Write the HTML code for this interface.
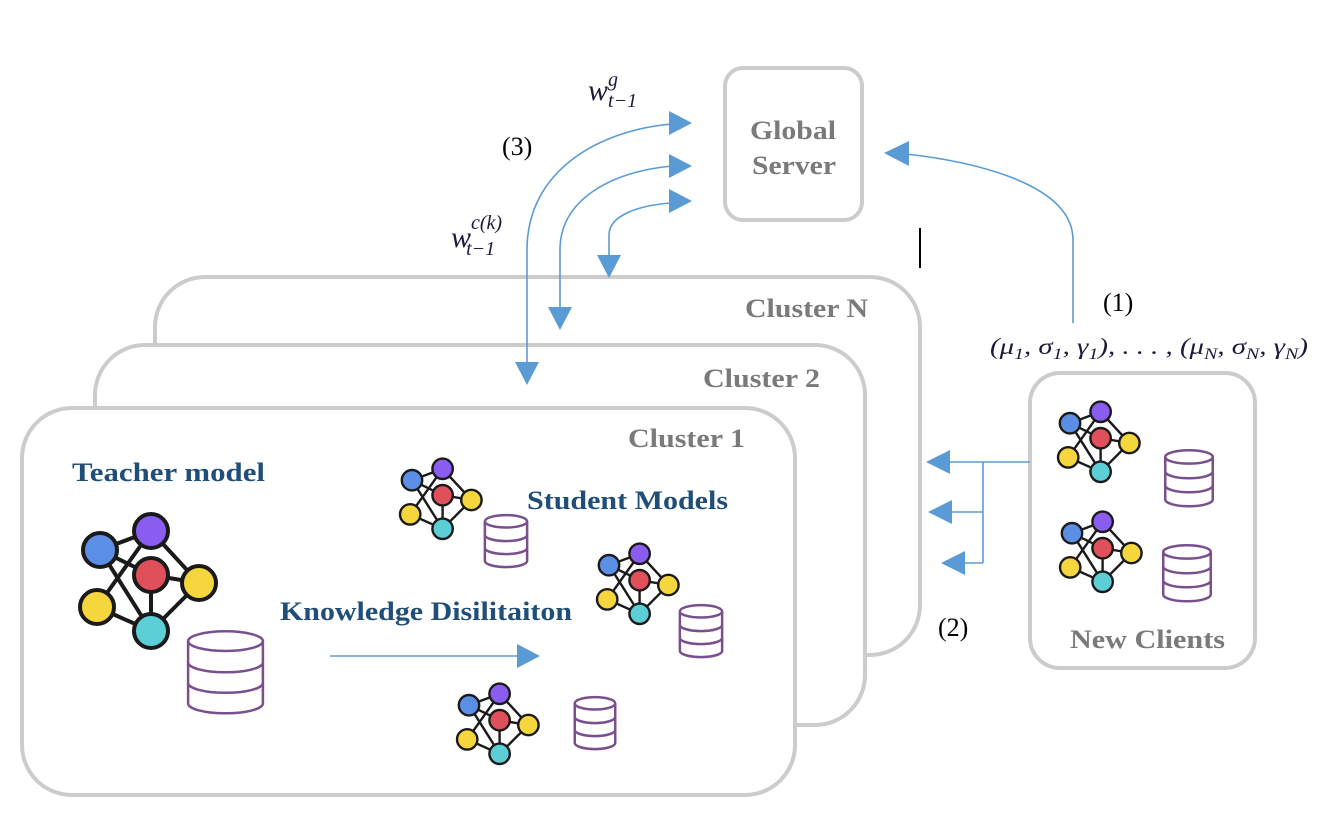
<!DOCTYPE html>
<html><head><meta charset="utf-8"><style>
html,body{margin:0;padding:0;background:#fff;}
svg{display:block;}
text{font-family:"Liberation Serif",serif;}
</style></head><body>
<svg width="1328" height="829" viewBox="0 0 1328 829" xmlns="http://www.w3.org/2000/svg">
<defs>
<g id="net">
  <g stroke="#1a1a1a" stroke-width="4" fill="none">
    <line x1="20" y1="42" x2="71" y2="23"/>
    <line x1="20" y1="42" x2="71" y2="123"/>
    <line x1="71" y1="23" x2="17" y2="99"/>
    <line x1="71" y1="23" x2="119" y2="75"/>
    <line x1="20" y1="42" x2="71" y2="67"/>
    <line x1="71" y1="67" x2="119" y2="75"/>
    <line x1="71" y1="67" x2="71" y2="123"/>
    <line x1="17" y1="99" x2="71" y2="123"/>
    <line x1="119" y1="75" x2="71" y2="123"/>
  </g>
  <g stroke="#1a1a1a" stroke-width="4">
    <circle cx="20" cy="42" r="17" fill="#5b8fe6"/>
    <circle cx="71" cy="23" r="17" fill="#8b5cf0"/>
    <circle cx="71" cy="67" r="17" fill="#e0505a"/>
    <circle cx="119" cy="75" r="17" fill="#f5d63c"/>
    <circle cx="17" cy="99" r="17" fill="#f5d63c"/>
    <circle cx="71" cy="123" r="17" fill="#5ccfd6"/>
  </g>
</g>
<g id="db" fill="none" stroke="#7a4f8e" stroke-width="2.5">
  <ellipse cx="50" cy="16" rx="44" ry="12" vector-effect="non-scaling-stroke"/>
  <path d="M6 16 V92 A44 12 0 0 0 94 92 V16" vector-effect="non-scaling-stroke"/>
  <path d="M6 42 A44 12 0 0 0 94 42" vector-effect="non-scaling-stroke"/>
  <path d="M6 67 A44 12 0 0 0 94 67" vector-effect="non-scaling-stroke"/>
</g>
</defs>

<!-- clusters -->
<rect x="155" y="277" width="765" height="378" rx="50" fill="#fff" stroke="#cccccc" stroke-width="4"/>
<text x="745" y="317" font-size="26" font-weight="bold" fill="#7a7a7a" textLength="123" lengthAdjust="spacingAndGlyphs">Cluster N</text>
<rect x="95" y="345" width="770" height="380" rx="50" fill="#fff" stroke="#cccccc" stroke-width="4"/>
<text x="703" y="387" font-size="26" font-weight="bold" fill="#7a7a7a" textLength="117" lengthAdjust="spacingAndGlyphs">Cluster 2</text>
<rect x="22" y="408" width="773" height="387" rx="50" fill="#fff" stroke="#cccccc" stroke-width="4"/>
<text x="628" y="447" font-size="26" font-weight="bold" fill="#7a7a7a" textLength="117" lengthAdjust="spacingAndGlyphs">Cluster 1</text>

<!-- global server -->
<rect x="725" y="68" width="137" height="152" rx="18" fill="#fff" stroke="#cccccc" stroke-width="4"/>
<text x="750" y="139" font-size="26" font-weight="bold" fill="#7a7a7a" textLength="86" lengthAdjust="spacingAndGlyphs">Global</text>
<text x="752" y="174" font-size="26" font-weight="bold" fill="#7a7a7a" textLength="84" lengthAdjust="spacingAndGlyphs">Server</text>

<!-- new clients -->
<rect x="1030" y="373" width="225" height="295" rx="30" fill="#fff" stroke="#cccccc" stroke-width="4"/>
<text x="1070" y="648" font-size="26" font-weight="bold" fill="#7a7a7a" textLength="155" lengthAdjust="spacingAndGlyphs">New Clients</text>
<use href="#net" transform="translate(1058,398) scale(0.6)"/>
<use href="#db" transform="translate(1162,448) scale(0.54,0.56)"/>
<use href="#net" transform="translate(1060,508) scale(0.6)"/>
<use href="#db" transform="translate(1160,543) scale(0.54,0.56)"/>

<!-- teacher -->
<text x="72" y="481" font-size="26" font-weight="bold" fill="#1f4e79" textLength="193" lengthAdjust="spacingAndGlyphs">Teacher model</text>
<use href="#net" transform="translate(80,508)"/>
<use href="#db" transform="translate(183,628) scale(0.85,0.82)"/>
<text x="280" y="620" font-size="26" font-weight="bold" fill="#1f4e79" textLength="292" lengthAdjust="spacingAndGlyphs">Knowledge Disilitaiton</text>
<text x="527" y="509" font-size="26" font-weight="bold" fill="#1f4e79" textLength="201" lengthAdjust="spacingAndGlyphs">Student Models</text>
<use href="#net" transform="translate(400,455) scale(0.6)"/>
<use href="#db" transform="translate(482,513) scale(0.48,0.52)"/>
<use href="#net" transform="translate(597,540) scale(0.6)"/>
<use href="#db" transform="translate(677,603) scale(0.48,0.52)"/>
<use href="#net" transform="translate(457,680) scale(0.6)"/>
<use href="#db" transform="translate(572,695) scale(0.46,0.52)"/>

<!-- arrows -->
<g stroke="#5b9bd5" stroke-width="1.6" fill="none">
  <line x1="330" y1="656" x2="520" y2="656"/>
  <path d="M527 365 V250 C527 170 600 130 672 124"/>
  <path d="M560 312 V250 C560 200 610 172 672 166"/>
  <path d="M609 262 V235 C609 215 640 205 672 203"/>
  <path d="M1073 323 V240 C1073 180 960 160 906 154"/>
  <line x1="1030" y1="462" x2="945" y2="462"/>
  <line x1="983" y1="462" x2="983" y2="563"/>
  <line x1="983" y1="512" x2="948" y2="512"/>
  <line x1="983" y1="563" x2="960" y2="563"/>
</g>
<g fill="#5b9bd5">
  <polygon points="540,656 517,644 517,668"/>
  <polygon points="692,123 669,111 669,135"/>
  <polygon points="692,166 669,154 669,178"/>
  <polygon points="692,201 669,189 669,213"/>
  <polygon points="527,385 515,362 539,362"/>
  <polygon points="560,330 548,307 572,307"/>
  <polygon points="609,278 597,255 621,255"/>
  <polygon points="884,153 909,141 909,166"/>
  <polygon points="926,462 950,450 950,474"/>
  <polygon points="928,512 952,500 952,524"/>
  <polygon points="941,563 965,551 965,575"/>
</g>
<line x1="920" y1="228" x2="920" y2="268" stroke="#000" stroke-width="2"/>

<!-- labels -->
<text x="502" y="155" font-size="26" fill="#000">(3)</text>
<text x="1103" y="311" font-size="26" fill="#000">(1)</text>
<text x="938" y="636" font-size="26" fill="#000">(2)</text>
<text x="588" y="100" font-size="30" font-style="italic" fill="#1a1a3a">w<tspan font-size="20" dy="-14">g</tspan><tspan font-size="20" dx="-10" dy="21">t−1</tspan></text>
<text x="451" y="247" font-size="30" font-style="italic" fill="#1a1a3a">w<tspan font-size="20" dy="-18">c(k)</tspan><tspan font-size="20" dx="-36" dy="26">t−1</tspan></text>
<text x="990" y="354" font-size="23" font-style="italic" fill="#1a1a3a" textLength="318" lengthAdjust="spacingAndGlyphs">(μ<tspan font-size="16" dy="5">1</tspan><tspan dy="-5">, σ</tspan><tspan font-size="16" dy="5">1</tspan><tspan dy="-5">, γ</tspan><tspan font-size="16" dy="5">1</tspan><tspan dy="-5">), . . . , (μ</tspan><tspan font-size="16" dy="5">N</tspan><tspan dy="-5">, σ</tspan><tspan font-size="16" dy="5">N</tspan><tspan dy="-5">, γ</tspan><tspan font-size="16" dy="5">N</tspan><tspan dy="-5">)</tspan></text>
</svg>
</body></html>
